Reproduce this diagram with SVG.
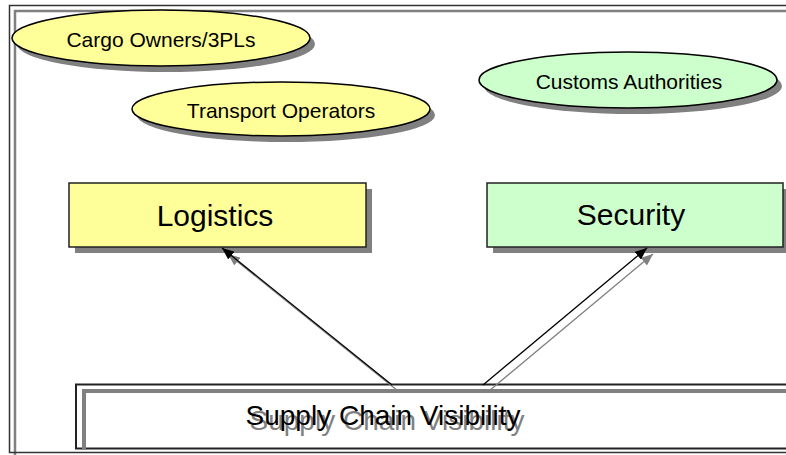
<svg xmlns="http://www.w3.org/2000/svg" width="786" height="455" viewBox="0 0 786 455">
<style>
.t{font-family:"Liberation Sans",Arial,sans-serif;fill:#000;text-anchor:middle}
.sh{fill:#808080}
.ell{stroke:#000;stroke-width:1.5}
.box{stroke:#222;stroke-width:1.5}
.y{fill:#ffff99}
.g{fill:#ccffcc}
.con{stroke:#000;stroke-width:1.3;fill:none}
.cons{stroke:#808080;stroke-width:1.3;fill:none}
</style>
<defs>
<marker id="ah" markerUnits="userSpaceOnUse" markerWidth="13" markerHeight="10" refX="12" refY="5" orient="auto">
<path d="M0,0 L12,5 L0,10 z" fill="#000"/>
</marker>
<marker id="ahs" markerUnits="userSpaceOnUse" markerWidth="13" markerHeight="10" refX="12" refY="5" orient="auto">
<path d="M0,0 L12,5 L0,10 z" fill="#808080"/>
</marker>
</defs>
<rect width="786" height="455" fill="#fff"/>
<g id="frame">
<path d="M15,460 V11 H820" fill="none" stroke="#808080" stroke-width="2.5"/>
<path d="M820,5.5 H9.5 V452.5 H820" fill="none" stroke="#333" stroke-width="1.5"/>
</g>
<g id="cargo-owners">
<ellipse class="sh" cx="166" cy="44" rx="149" ry="28"/>
<ellipse class="ell y" cx="161" cy="38" rx="149" ry="28"/>
<text class="t" x="161" y="46.5" font-size="21">Cargo Owners/3PLs</text>
</g>
<g id="transport-operators">
<ellipse class="sh" cx="286" cy="115" rx="149" ry="27"/>
<ellipse class="ell y" cx="281" cy="109" rx="149" ry="27"/>
<text class="t" x="281" y="118" font-size="21">Transport Operators</text>
</g>
<g id="customs-authorities">
<ellipse class="sh" cx="633" cy="86" rx="149" ry="28"/>
<ellipse class="ell g" cx="628" cy="80" rx="149" ry="28"/>
<text class="t" x="629" y="88.5" font-size="21">Customs Authorities</text>
</g>
<g id="logistics">
<rect class="sh" x="75" y="189" width="297" height="64"/>
<rect class="box y" x="69" y="183" width="297" height="64"/>
<text class="t" x="215" y="226" font-size="30">Logistics</text>
</g>
<g id="security">
<rect class="sh" x="493" y="189" width="296" height="64"/>
<rect class="box g" x="487" y="183" width="296" height="64"/>
<text class="t" x="631" y="225" font-size="30">Security</text>
</g>
<g id="supply-chain-visibility">
<rect x="76" y="384.5" width="800" height="64" fill="#fff" stroke="#222" stroke-width="2"/>
<path d="M84,450 V391 H820" fill="none" stroke="#808080" stroke-width="4"/>
<text class="t" x="387" y="430" font-size="28" style="fill:#808080">Supply Chain Visibility</text>
<text class="t" x="383" y="425" font-size="28">Supply Chain Visibility</text>
</g>
<g id="connectors">
<line class="cons" x1="398" y1="391" x2="228" y2="254" marker-end="url(#ahs)"/>
<line class="cons" x1="489" y1="391" x2="653" y2="254" marker-end="url(#ahs)"/>
<line class="con" x1="392" y1="385" x2="222" y2="248" marker-end="url(#ah)"/>
<line class="con" x1="483" y1="385" x2="647" y2="248" marker-end="url(#ah)"/>
</g>
</svg>
